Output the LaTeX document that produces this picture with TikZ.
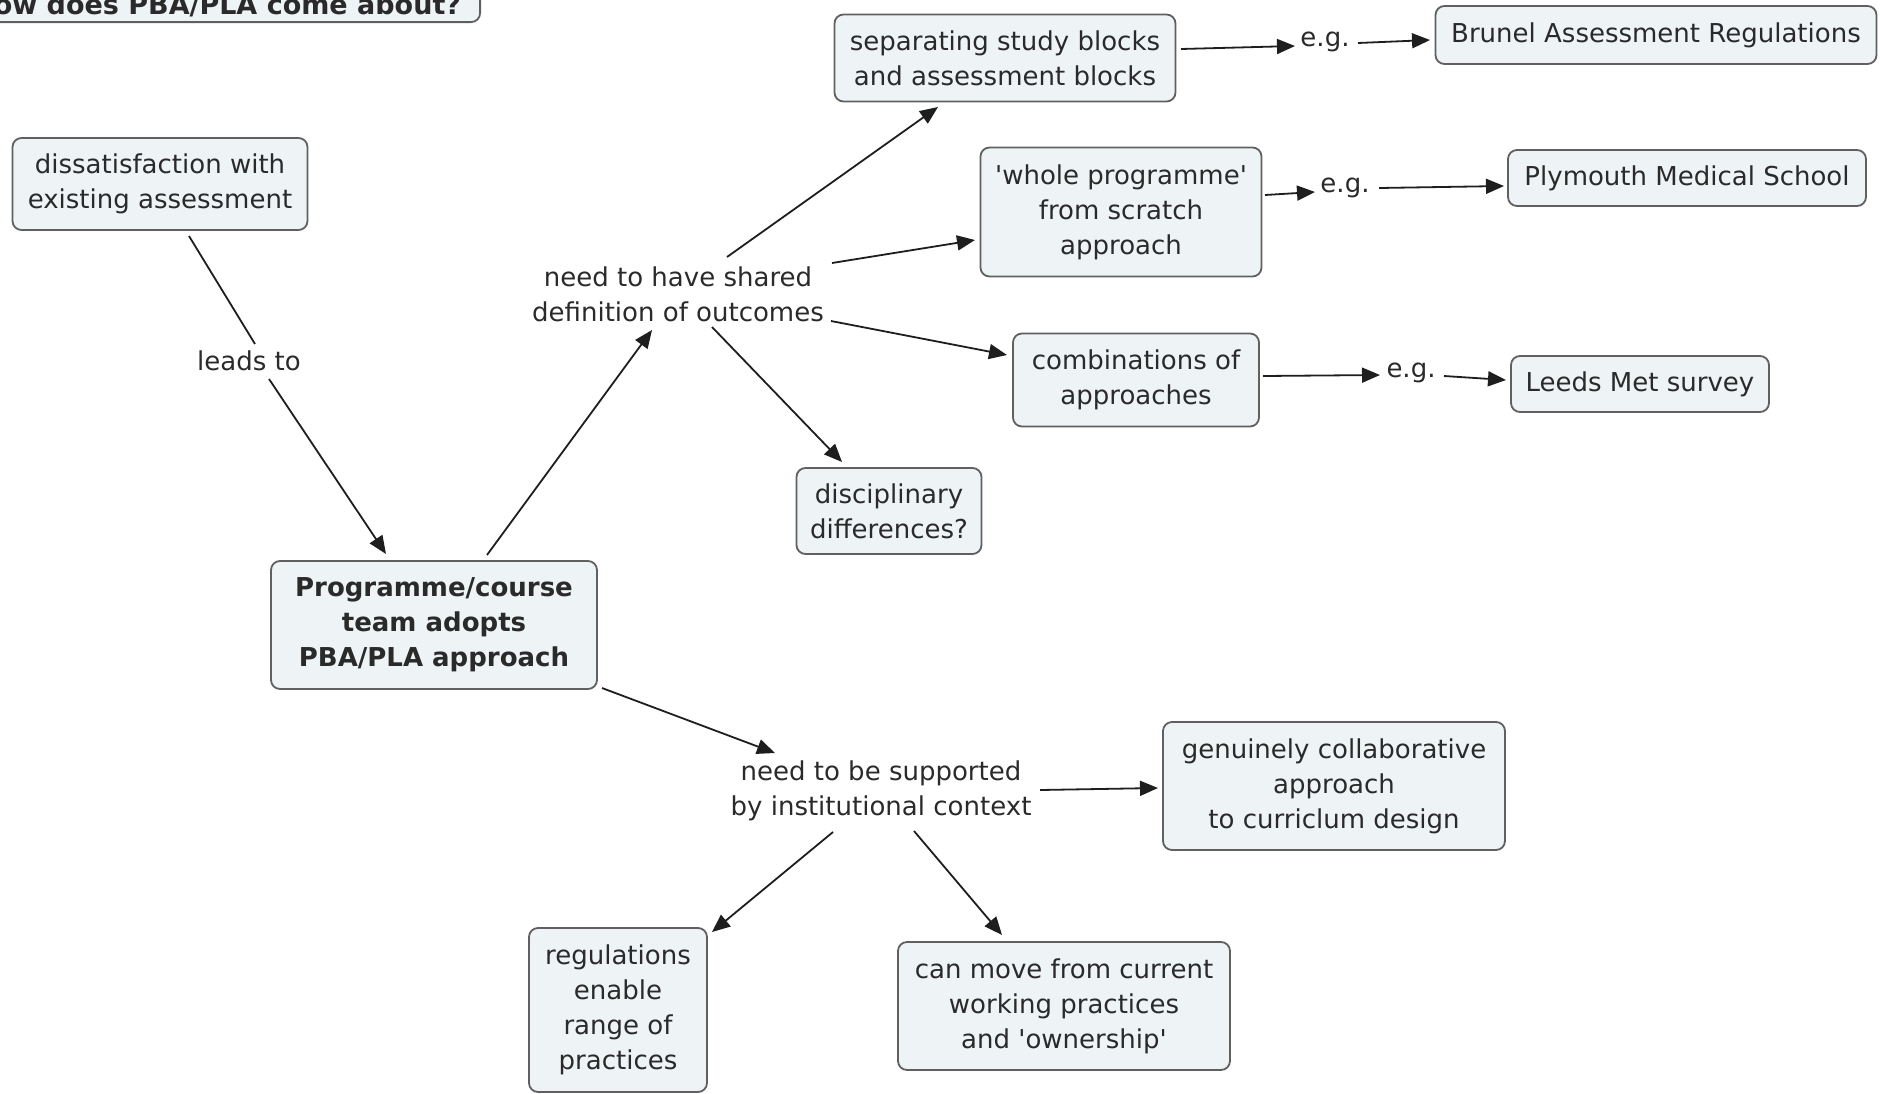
\documentclass[tikz,border=0pt]{standalone}
\usepackage{fontspec}
\setmainfont{DejaVu Sans}
\usetikzlibrary{arrows.meta}
\definecolor{boxfill}{HTML}{EEF3F6}
\definecolor{boxline}{HTML}{606060}
\definecolor{txtcol}{HTML}{2A2A2A}
\definecolor{linkcol}{HTML}{1E1E1E}
\newcommand\mapfont{\fontsize{26}{35}\selectfont}
\newcommand\titlefont{\fontsize{27}{35}\selectfont\bfseries}
\newcommand\sq{\textquotesingle}
\begin{document}
\begin{tikzpicture}[x=1pt,y=-1pt,
  mapbox/.style={draw=boxline, fill=boxfill, line width=1.8pt, rounded corners=9pt,
    align=center, text=txtcol, font=\mapfont, inner sep=3pt},
  maplabel/.style={align=center, text=txtcol, font=\mapfont, inner sep=1pt},
  link/.style={draw=linkcol, line width=1.8pt},
  arr/.style={link, -{Triangle[length=18pt,width=15pt]}}]
\useasboundingbox (0,0) rectangle (1880,1093);

% title (cut off at the top)
\node[mapbox, anchor=south east, font=\titlefont, inner xsep=19pt, inner ysep=5pt]
  (title) at (481,23) {How does PBA/PLA come about?};

% boxes
\node[mapbox, minimum width=295pt, minimum height=92pt] (diss) at (160,184)
  {dissatisfaction with\\existing assessment};
\node[mapbox, minimum width=326pt, minimum height=128pt, font=\mapfont\bfseries] (prog) at (434,625)
  {Programme/course\\team adopts\\PBA/PLA approach};
\node[mapbox, minimum width=341pt, minimum height=87pt] (sep) at (1005,58)
  {separating study blocks\\and assessment blocks};
\node[mapbox, minimum width=441pt, minimum height=58pt] (brunel) at (1656,35)
  {Brunel Assessment Regulations};
\node[mapbox, minimum width=281pt, minimum height=129pt] (whole) at (1121,212)
  {\sq whole programme\sq\\from scratch\\approach};
\node[mapbox, minimum width=358pt, minimum height=56pt] (plym) at (1687,178)
  {Plymouth Medical School};
\node[mapbox, minimum width=246pt, minimum height=93pt] (comb) at (1136,380)
  {combinations of\\approaches};
\node[mapbox, minimum width=258pt, minimum height=56pt] (leeds) at (1640,384)
  {Leeds Met survey};
\node[mapbox, minimum width=185pt, minimum height=86pt] (disc) at (889,511)
  {disciplinary\\differences?};
\node[mapbox, minimum width=342pt, minimum height=128pt] (genu) at (1334,786)
  {genuinely collaborative\\approach\\to curriclum design};
\node[mapbox, minimum width=178pt, minimum height=164pt] (regs) at (618,1010)
  {regulations\\enable\\range of\\practices};
\node[mapbox, minimum width=332pt, minimum height=128pt] (move) at (1064,1006)
  {can move from current\\working practices\\and \sq ownership\sq};

% linking phrases
\node[maplabel] (leads) at (249,361) {leads to};
\node[maplabel] (shared) at (678,294) {need to have shared\\definition of outcomes};
\node[maplabel] (supp) at (881,791) {need to be supported\\by institutional context};
\node[maplabel] (eg1) at (1325,42) {e.g.};
\node[maplabel] (eg2) at (1345,188) {e.g.};
\node[maplabel] (eg3) at (1411,373) {e.g.};

% connectors
\draw[link] ([shift={(29,52)}]diss.center) -- ([shift={(6,-17)}]leads.center);
\draw[arr] ([shift={(20,18)}]leads.center) -- ([shift={(-48,-71)}]prog.center);
\draw[arr] ([shift={(53,-70)}]prog.center) -- ([shift={(-26,36)}]shared.center);
\draw[arr] ([shift={(49,-37)}]shared.center) -- ([shift={(-67,49)}]sep.center);
\draw[arr] ([shift={(154,-31)}]shared.center) -- ([shift={(-146,28)}]whole.center);
\draw[arr] ([shift={(153,27)}]shared.center) -- ([shift={(-129,-25)}]comb.center);
\draw[arr] ([shift={(34,33)}]shared.center) -- ([shift={(-47,-49)}]disc.center);
\draw[arr] ([shift={(176,-9)}]sep.center) -- ([shift={(-30,4)}]eg1.center);
\draw[arr] ([shift={(33,1)}]eg1.center) -- ([shift={(-226,5)}]brunel.center);
\draw[arr] ([shift={(144,-17)}]whole.center) -- ([shift={(-30,4)}]eg2.center);
\draw[arr] ([shift={(34,0)}]eg2.center) -- ([shift={(-183,8)}]plym.center);
\draw[arr] ([shift={(127,-4)}]comb.center) -- ([shift={(-31,2)}]eg3.center);
\draw[arr] ([shift={(33,3)}]eg3.center) -- ([shift={(-134,-4)}]leeds.center);
\draw[arr] ([shift={(168,63)}]prog.center) -- ([shift={(-106,-38)}]supp.center);
\draw[arr] ([shift={(159,-1)}]supp.center) -- ([shift={(-176,2)}]genu.center);
\draw[arr] ([shift={(-48,41)}]supp.center) -- ([shift={(94,-78)}]regs.center);
\draw[arr] ([shift={(33,40)}]supp.center) -- ([shift={(-62,-71)}]move.center);
\end{tikzpicture}
\end{document}
